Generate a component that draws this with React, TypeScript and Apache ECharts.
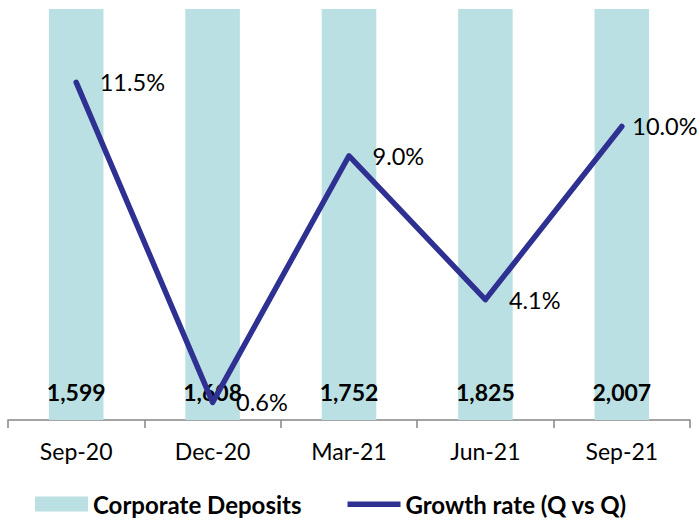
import React, { useEffect, useRef } from "react";
import * as echarts from "echarts";

const categories = ["Sep-20", "Dec-20", "Mar-21", "Jun-21", "Sep-21"];
const deposits = [1599, 1608, 1752, 1825, 2007];
const growth = [11.5, 0.6, 9.0, 4.1, 10.0];

const FONT = "Lato, 'Open Sans', sans-serif";
const LINE_ICON = "path://M0,0L0.05,0L0.05,0.05Z M0,5L54,5L54,10.5L0,10.5Z M0,15L0.05,15L0.05,14.95Z";

export default function App() {
  const ref = useRef<HTMLDivElement>(null);
  useEffect(() => {
    if (!ref.current) return;
    const chart = echarts.init(ref.current, null, { renderer: "svg" });
    const growthData = growth.map((v, i) =>
      i === growth.length - 1 ? { value: v, label: { distance: 9 } } : { value: v }
    );
    chart.setOption({
      animation: false,
      textStyle: { fontFamily: FONT },
      grid: { left: 8, right: 10, top: 9, bottom: 104, containLabel: false },
      legend: {
        bottom: 3,
        left: 30,
        itemGap: 46,
        itemWidth: 53,
        itemHeight: 15,
        textStyle: { fontFamily: FONT, fontSize: 24, fontWeight: "bold", color: "#000" },
        data: [
          { name: "Corporate Deposits", icon: "rect" },
          { name: "Growth rate (Q vs Q)", icon: LINE_ICON, itemStyle: { color: "#2E3192", opacity: 1 } },
        ],
      },
      xAxis: {
        type: "category",
        data: categories,
        axisLine: { lineStyle: { color: "#868686", width: 1.5 } },
        axisTick: { show: true, length: 8, lineStyle: { color: "#868686", width: 1.5 } },
        axisLabel: { color: "#000", fontSize: 23, margin: 19, fontFamily: FONT },
      },
      yAxis: [
        { type: "value", min: 0, max: 1500, show: false, splitLine: { show: false } },
        { type: "value", min: 0, max: 14, show: false, splitLine: { show: false } },
      ],
      series: [
        {
          name: "Corporate Deposits",
          type: "bar",
          data: deposits,
          yAxisIndex: 0,
          barWidth: "40%",
          clip: true,
          itemStyle: { color: "#BBE0E3" },
          label: {
            show: true,
            position: "insideBottom",
            distance: 17,
            color: "#000",
            fontSize: 23,
            fontWeight: "bold",
            fontFamily: FONT,
            formatter: (p: any) => p.value.toLocaleString("en-US"),
          },
        },
        {
          name: "Growth rate (Q vs Q)",
          type: "line",
          data: growthData,
          yAxisIndex: 1,
          symbol: "circle",
          symbolSize: 3,
          showSymbol: true,
          z: 3,
          lineStyle: { color: "#2E3192", width: 5.5, cap: "round", join: "round" },
          itemStyle: { color: "#2E3192" },
          label: {
            show: true,
            position: "right",
            distance: 22,
            color: "#000",
            fontSize: 23.5,
            fontFamily: FONT,
            formatter: (p: any) => Number(p.value).toFixed(1) + "%",
          },
        },
      ],
    });
    return () => chart.dispose();
  }, []);
  return (
    <div
      ref={ref}
      style={{ position: "fixed", left: 0, top: 0, width: 700, height: 524, background: "#fff" }}
    />
  );
}
